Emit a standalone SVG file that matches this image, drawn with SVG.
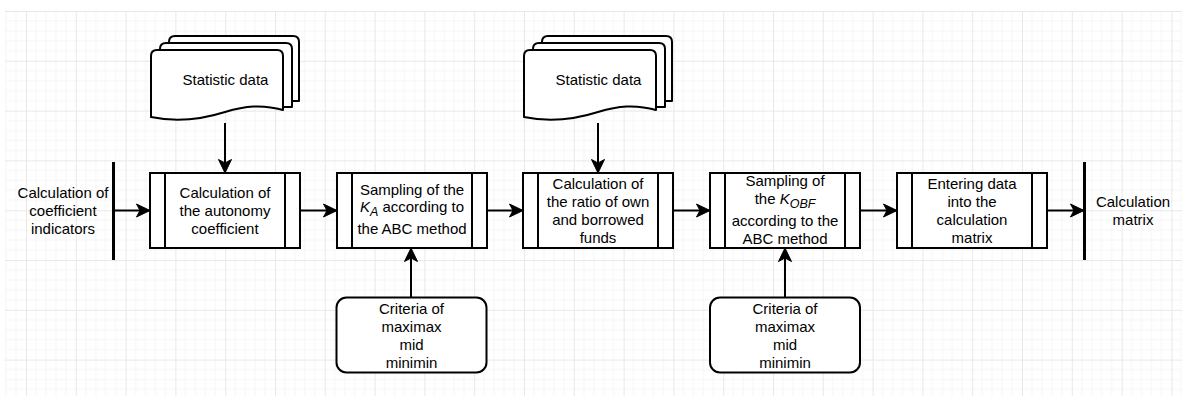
<svg xmlns="http://www.w3.org/2000/svg" xmlns:xlink="http://www.w3.org/1999/xlink" width="1182" height="396" viewBox="0 0 1182 396">
  <style>
    text { font-family: "Liberation Sans", Arial, sans-serif; font-size: 15px; fill: #000; text-anchor: middle; }
    .box { fill: #fff; stroke: #000; stroke-width: 2; }
    .div { stroke: #000; stroke-width: 2; fill: none; }
    .bar { stroke: #000; stroke-width: 3; }
    .edge { stroke: #000; stroke-width: 2; fill: none; marker-end: url(#arrow); }
    .page { fill: #fff; stroke: #000; stroke-width: 2; stroke-linejoin: round; }
    .sub { font-size: 12.5px; font-style: italic; }
    .it { font-style: italic; }
  </style>
  <defs>
    <pattern id="grid" patternUnits="userSpaceOnUse" x="26" y="11" width="49.8" height="49.8">
      <path d="M9.96,0V49.8M19.92,0V49.8M29.88,0V49.8M39.84,0V49.8M0,9.96H49.8M0,19.92H49.8M0,29.88H49.8M0,39.84H49.8" stroke="#f6f6f6" stroke-width="1" fill="none"/>
      <path d="M0.5,0V49.8M0,0.5H49.8" stroke="#e8e8e8" stroke-width="1" fill="none"/>
    </pattern>
    <marker id="arrow" markerUnits="userSpaceOnUse" viewBox="0 0 15 15" markerWidth="15" markerHeight="15" refX="14" refY="7.5" orient="auto">
      <path d="M0.5,1 L14,7.5 L0.5,14 L4,7.5 Z" fill="#000" stroke="#000" stroke-width="1" stroke-linejoin="miter"/>
    </marker>
    <!-- stack of three pages, front page with wavy bottom -->
    <g id="docStack">
      <path class="page" d="M292,101 L299,101 L299,42 Q299,36 293,36 L175,36 Q169,36 169,42 L169,48"/>
      <path class="page" d="M283,107 L292,107 L292,49 Q292,43 286,43 L166,43 Q160,43 160,49 L160,55"/>
      <path class="page" d="M151,117 L151,56 Q151,50 157,50 L277,50 Q283,50 283,56 L283,110 C262,104 245,106 225,112 C200,120 175,122 151,117 Z"/>
    </g>
  </defs>

  <rect x="0" y="0" width="1182" height="396" fill="#fff"/>
  <rect x="5" y="11" width="1177" height="385" fill="url(#grid)"/>

  <!-- connectors -->
  <g id="connectors">
    <line class="edge" x1="113" y1="210.5" x2="150" y2="210.5"/>
    <line class="edge" x1="300" y1="210.5" x2="337" y2="210.5"/>
    <line class="edge" x1="487" y1="210.5" x2="523" y2="210.5"/>
    <line class="edge" x1="673" y1="210.5" x2="710" y2="210.5"/>
    <line class="edge" x1="860" y1="210.5" x2="897" y2="210.5"/>
    <line class="edge" x1="1047" y1="210.5" x2="1084" y2="210.5"/>
    <line class="edge" x1="225" y1="123" x2="225" y2="173"/>
    <line class="edge" x1="598" y1="123" x2="598" y2="173"/>
    <line class="edge" x1="411" y1="297.5" x2="411" y2="248"/>
    <line class="edge" x1="785" y1="297.5" x2="785" y2="248"/>
  </g>

  <!-- start bar -->
  <g id="start">
    <line class="bar" x1="113.5" y1="162" x2="113.5" y2="260"/>
    <text x="63" y="198">Calculation of</text>
    <text x="63" y="216">coefficient</text>
    <text x="63" y="234">indicators</text>
  </g>

  <!-- end bar -->
  <g id="end">
    <line class="bar" x1="1084.5" y1="162" x2="1084.5" y2="260"/>
    <text x="1133" y="206.5">Calculation</text>
    <text x="1133" y="224.5">matrix</text>
  </g>

  <!-- data sources -->
  <g id="data1">
    <use xlink:href="#docStack"/>
    <text x="225.5" y="85">Statistic data</text>
  </g>
  <g id="data2">
    <use xlink:href="#docStack" transform="translate(373,0)"/>
    <text x="598.5" y="85">Statistic data</text>
  </g>

  <!-- process steps -->
  <g id="step1">
    <rect class="box" x="150" y="173" width="150" height="75"/>
    <path class="div" d="M165,173V248M285,173V248"/>
    <text x="225" y="198">Calculation of</text>
    <text x="225" y="216">the autonomy</text>
    <text x="225" y="234">coefficient</text>
  </g>

  <g id="step2">
    <rect class="box" x="337" y="173" width="150" height="75"/>
    <path class="div" d="M352,173V248M472,173V248"/>
    <text x="412" y="194.5">Sampling of the</text>
    <text x="412" y="212"><tspan class="it">K</tspan><tspan class="sub" dy="4">A</tspan><tspan dy="-4"> according to</tspan></text>
    <text x="412" y="234">the ABC method</text>
  </g>

  <g id="step3">
    <rect class="box" x="523" y="173" width="150" height="75"/>
    <path class="div" d="M538,173V248M658,173V248"/>
    <text x="598" y="188.5">Calculation of</text>
    <text x="598" y="206.5">the ratio of own</text>
    <text x="598" y="224.5">and borrowed</text>
    <text x="598" y="242.5">funds</text>
  </g>

  <g id="step4">
    <rect class="box" x="710" y="173" width="150" height="75"/>
    <path class="div" d="M725,173V248M845,173V248"/>
    <text x="785" y="186">Sampling of</text>
    <text x="785" y="203.5">the <tspan class="it">K</tspan><tspan class="sub" dy="4">OBF</tspan></text>
    <text x="785" y="226">according to the</text>
    <text x="785" y="244">ABC method</text>
  </g>

  <g id="step5">
    <rect class="box" x="897" y="173" width="150" height="75"/>
    <path class="div" d="M912,173V248M1032,173V248"/>
    <text x="972" y="189">Entering data</text>
    <text x="972" y="206.5">into the</text>
    <text x="972" y="224.5">calculation</text>
    <text x="972" y="242.5">matrix</text>
  </g>

  <!-- selection criteria -->
  <g id="criteria1">
    <rect class="box" x="336.5" y="297.5" width="150" height="75" rx="10"/>
    <text x="411.5" y="313.5">Criteria of</text>
    <text x="411.5" y="331.5">maximax</text>
    <text x="411.5" y="349.5">mid</text>
    <text x="411.5" y="367.5">minimin</text>
  </g>

  <g id="criteria2">
    <rect class="box" x="710" y="297.5" width="150" height="75" rx="10"/>
    <text x="785" y="313.5">Criteria of</text>
    <text x="785" y="331.5">maximax</text>
    <text x="785" y="349.5">mid</text>
    <text x="785" y="367.5">minimin</text>
  </g>
</svg>
